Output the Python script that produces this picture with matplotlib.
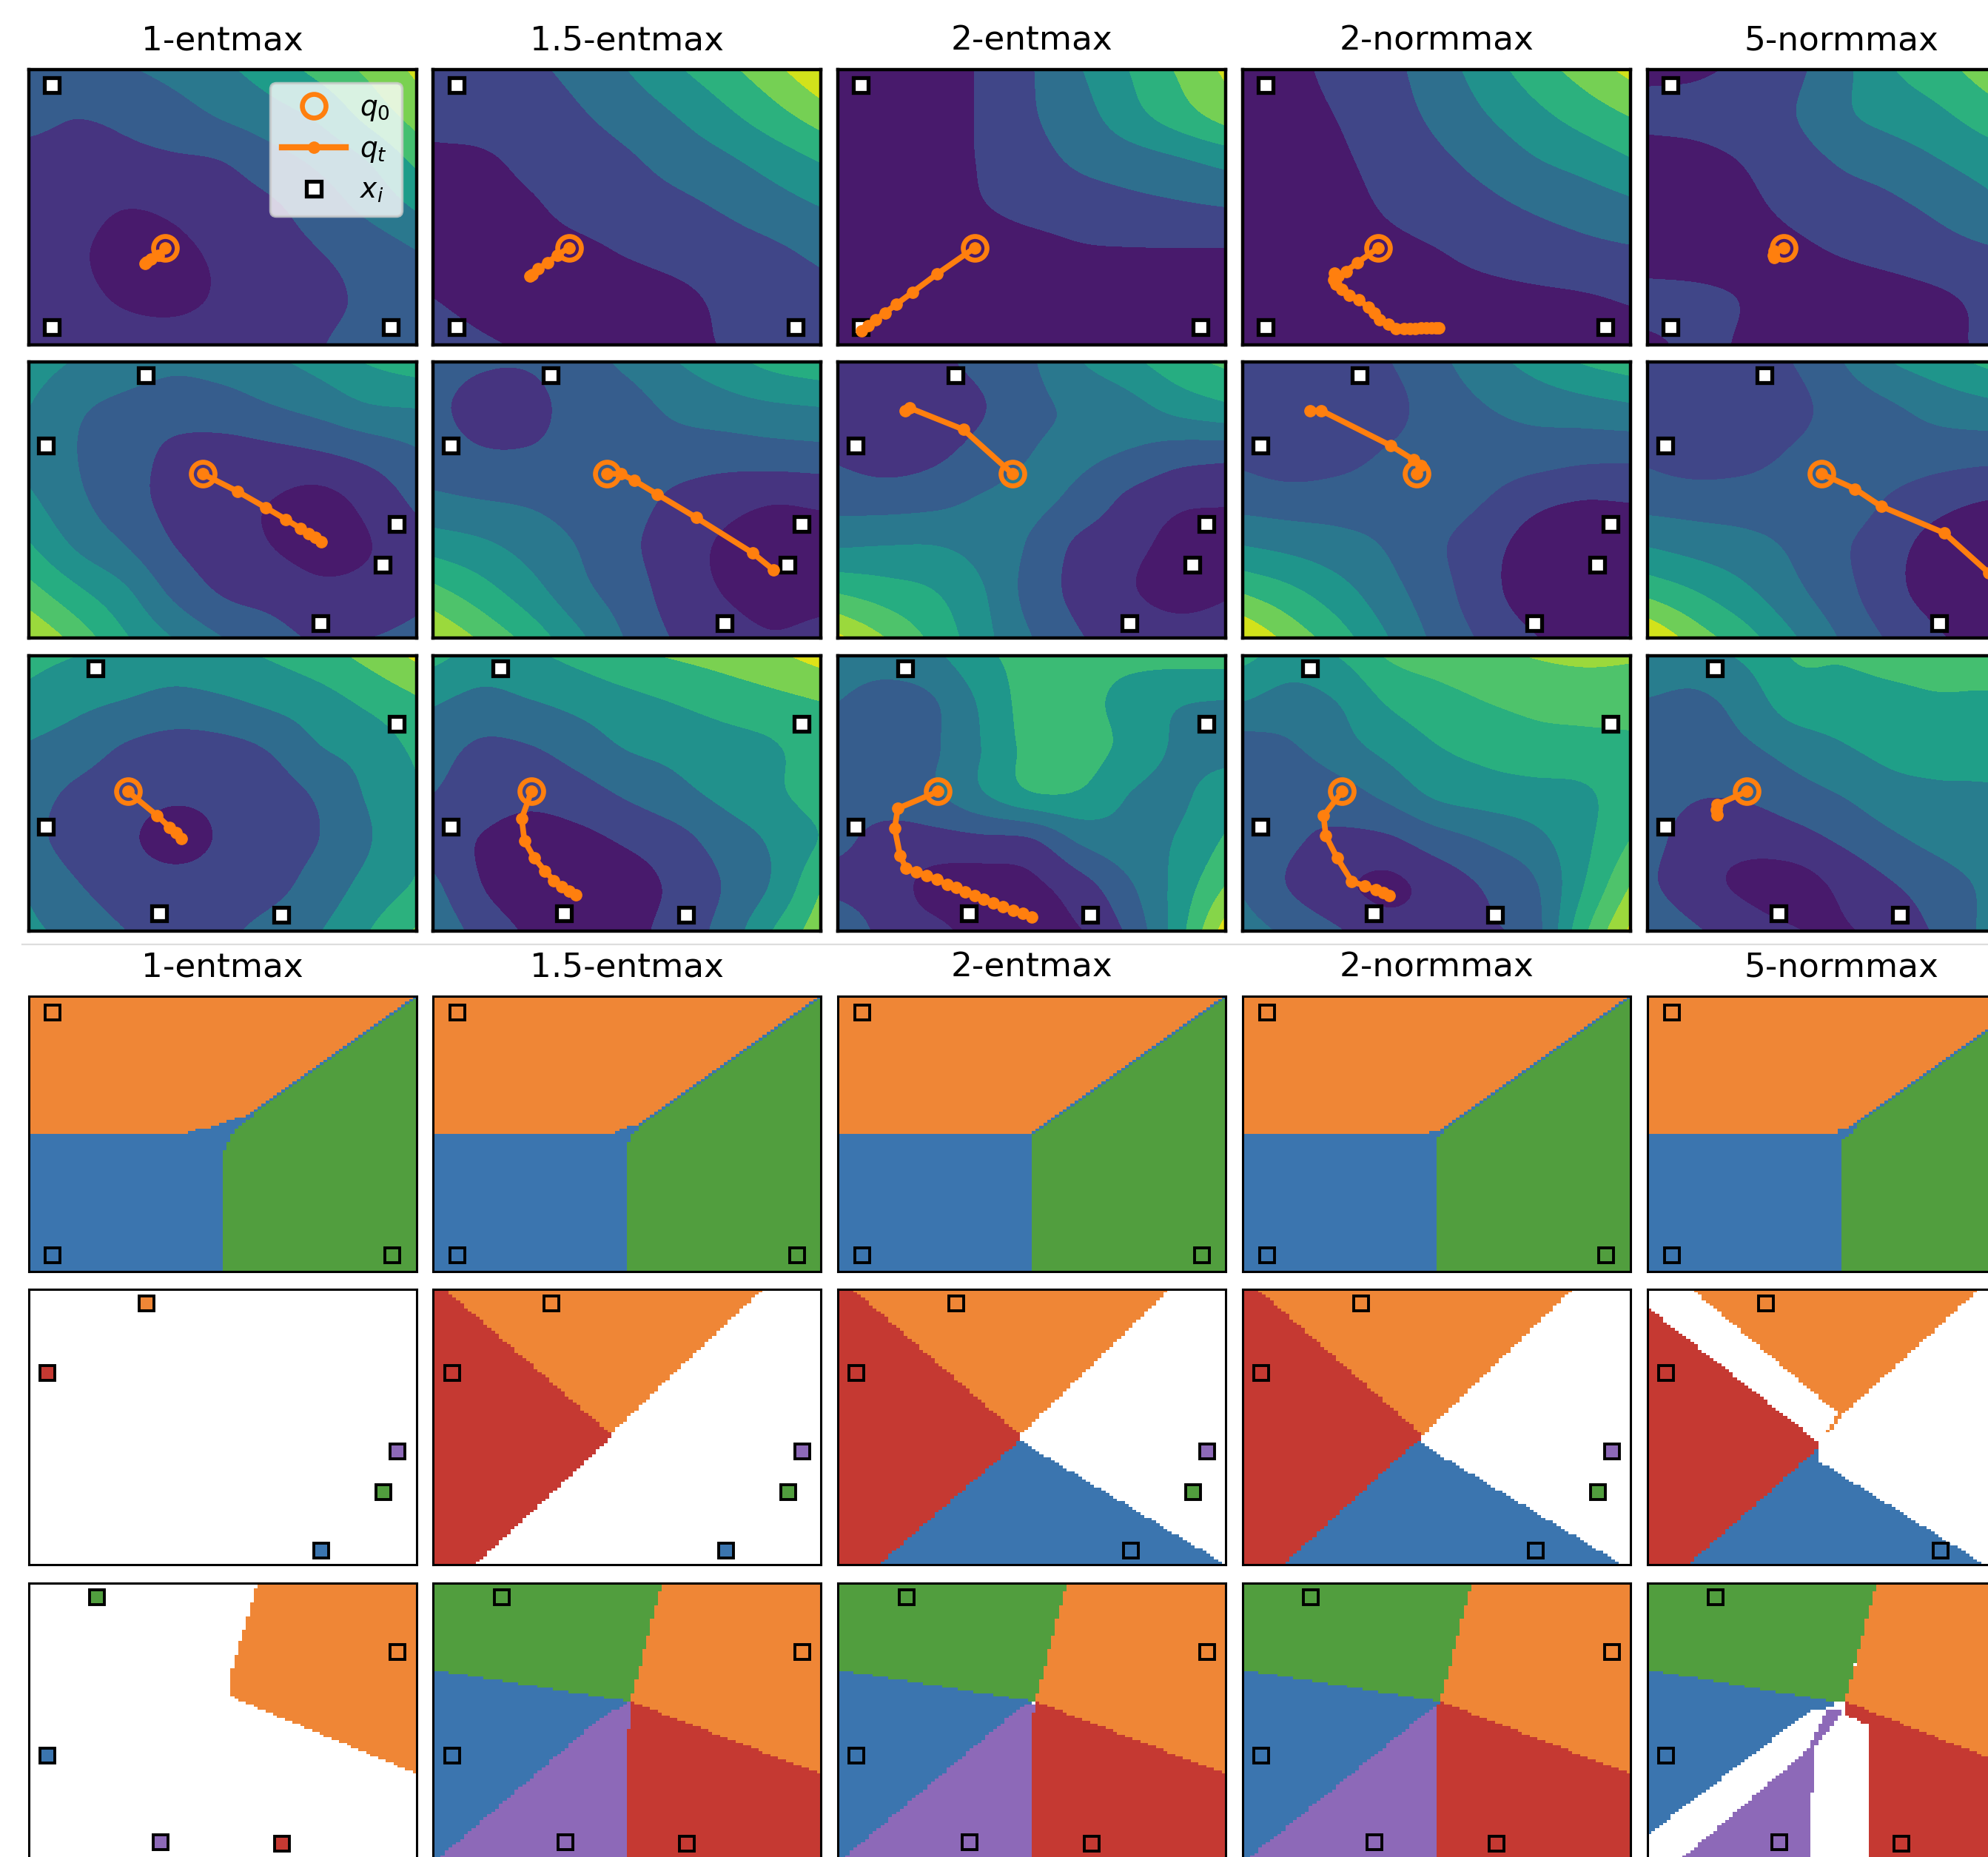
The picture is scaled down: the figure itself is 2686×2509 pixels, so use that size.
import numpy as np
import matplotlib
matplotlib.use("Agg")
import matplotlib.pyplot as plt
from matplotlib.lines import Line2D
from matplotlib.path import Path
from matplotlib.colors import ListedColormap

W, H = 2686, 2509
DPI = 100
TITLES = ["1-entmax", "1.5-entmax", "2-entmax", "2-normmax", "5-normmax"]

# ---------- estimated level fields (band number); columns x=0..1, rows top..bottom
Z11 = [[2.2,2.5,2.9,3.3,3.8,4.5,5.3,6.2,7.2],[2.2,2.03,2.2,2.6,3.1,3.6,4.2,5.3,6.4],[1.75,1.7,1.75,1.85,2.0,2.6,3.2,4.0,5.2],
       [1.6,1.3,1.02,1.15,1.5,1.85,2.5,3.25,4.1],[1.6,1.1,.8,.85,1.15,1.6,1.97,2.4,2.95],[1.7,1.25,.9,.85,1.1,1.5,1.8,2.15,2.6],[2.0,1.7,1.4,1.3,1.4,1.6,1.95,2.3,2.6]]
Z12 = [[1.3,1.5,1.85,2.25,3.0,3.85,4.7,5.7,6.9],[1.2,1.35,1.6,1.9,2.4,3.0,3.75,4.6,5.5],[.85,.88,1.2,1.5,1.85,2.35,2.8,3.4,4.05],
       [.7,.75,.9,1.25,1.5,1.75,2.1,2.55,3.0],[.7,.65,.7,.8,1.05,1.3,1.55,1.8,2.2],[1.0,.75,.6,.55,.6,.8,1.15,1.4,1.7],[1.4,1.1,.9,.75,.75,.85,1.03,1.3,1.55]]
Z13 = [[.3,.4,.7,1.1,1.95,2.95,4.0,5.1,6.2],[.3,.4,.7,1.1,1.9,2.6,3.6,4.5,5.4],[.3,.4,.7,1.07,1.65,2.15,2.5,2.85,3.3],
       [.3,.4,.6,.95,1.3,1.5,1.7,1.85,2.0],[.2,.2,.3,.4,.6,.85,.9,.9,.9],[.2,.2,.2,.2,.2,.2,.2,.2,.2],[.15,.15,.15,.15,.15,.15,.15,.15,.15]]
Z14 = [[.4,.75,1.3,1.75,2.5,3.5,4.5,5.4,6.3],[.35,.65,1.05,1.6,2.2,2.95,3.7,4.4,5.05],[.3,.5,.85,1.35,1.8,2.3,2.9,3.35,3.9],
       [.25,.4,.65,1.1,1.45,1.75,2.1,2.4,2.75],[.2,.3,.45,.7,.95,1.25,1.5,1.7,1.85],[.15,.15,.2,.3,.6,.7,.8,.9,1.08],[.1,.1,.1,.2,.3,.4,.5,.6,.7]]
Z15 = [[.8,.85,1.2,1.75,2.7,3.9,4.6,5.5,6.3],[1.2,1.3,1.6,1.95,2.8,3.35,3.8,4.5,5.2],[.6,.7,1.05,1.55,2.1,2.45,2.95,3.45,3.9],
       [.5,.55,.8,1.2,1.55,1.8,2.2,2.7,3.2],[.5,.55,.6,.8,1.05,1.3,1.6,1.85,2.0],[1.3,1.2,.95,.6,.5,.6,.85,1.2,1.4],[.8,1.15,.9,.5,.4,.5,.8,1.1,1.3]]
Z21 = [[4.5,3.9,3.5,3.2,3.4,3.8,4.35,5.05,5.5],[4.0,3.15,2.75,2.5,2.55,2.9,3.3,3.85,4.0],[3.7,3.0,2.5,1.75,1.6,1.7,1.9,2.3,2.85],
       [4.2,3.2,2.4,1.7,1.3,1.0,.7,1.3,2.2],[5.1,3.85,3.0,2.0,1.5,1.0,.7,.95,1.6],[6.4,5.2,4.15,2.75,1.9,1.6,1.2,1.3,1.75],[8.0,6.6,5.1,3.95,3.0,2.4,1.85,1.98,2.25]]
Z22 = [[2.4,2.1,2.1,2.6,3.2,3.95,4.6,5.3,5.7],[2.2,1.7,1.7,2.4,2.6,3.2,3.55,3.8,3.95],[2.5,2.1,2.1,2.4,2.5,2.5,2.45,2.55,2.65],
       [3.2,3.0,2.85,2.6,2.35,1.8,1.4,1.1,1.2],[4.6,4.2,3.6,2.95,2.2,1.5,.85,.45,.6],[6.3,5.4,4.4,3.3,2.5,1.55,.95,.5,.6],[8.0,6.8,5.6,4.2,2.9,1.9,1.5,1.1,1.4]]
Z23 = [[1.9,1.6,1.8,2.3,2.9,3.95,4.7,5.6,6.2],[1.5,1.3,1.4,1.95,2.75,3.2,3.6,4.3,4.75],[1.85,1.55,1.8,2.4,3.0,3.15,2.9,2.45,2.3],
       [2.6,2.55,2.7,3.1,3.2,2.7,1.75,1.2,1.1],[3.9,4.0,4.0,3.6,2.85,1.75,1.25,.75,.7],[5.9,5.45,5.0,4.05,2.6,1.7,1.1,.65,.9],[8.2,6.95,5.7,4.3,3.0,2.05,1.7,1.5,1.5]]
Z24 = [[1.8,1.5,1.55,1.95,2.75,3.55,4.35,5.05,5.5],[1.4,1.15,1.2,1.65,2.45,2.95,3.3,3.55,3.8],[1.75,1.4,1.6,2.1,2.4,2.55,2.5,2.3,2.25],
       [2.6,2.45,2.5,2.6,2.45,2.0,1.3,1.0,1.05],[4.0,3.7,3.35,2.9,2.15,1.4,.55,.2,.3],[5.9,5.2,4.35,3.35,2.4,1.35,.5,.3,.4],[8.0,6.6,5.4,4.0,2.75,1.8,1.05,.6,1.05]]
Z25 = [[1.95,1.6,1.7,2.0,2.95,3.95,4.55,5.2,5.8],[1.4,1.1,1.2,1.7,2.4,2.85,3.35,3.65,3.9],[1.8,1.45,1.6,2.1,2.45,2.55,2.45,2.35,2.35],
       [2.6,2.5,2.5,2.6,2.55,1.9,1.35,1.0,1.0],[3.95,3.6,3.3,2.85,2.15,1.35,.6,.2,.2],[5.7,5.0,4.2,3.25,2.35,1.3,.6,.2,.2],[8.0,6.5,5.4,4.1,2.9,1.85,1.1,.65,.9]]
Z31 = [[4.3,4.0,3.7,3.55,3.75,4.1,4.6,5.3,6.2],[3.7,3.25,2.95,2.7,2.85,3.2,3.6,4.2,4.85],[2.9,2.5,1.9,1.6,1.7,2.1,2.95,3.4,4.2],
       [2.4,1.8,1.4,1.15,1.25,1.6,2.15,3.1,3.9],[2.3,1.6,1.15,.7,1.1,1.6,2.0,2.9,3.95],[2.85,2.05,1.5,1.3,1.4,1.7,2.4,3.3,4.1],[3.2,2.65,2.0,1.6,1.8,2.35,2.95,3.95,5.1]]
Z32 = [[4.3,3.65,3.85,4.3,4.8,5.1,5.4,5.8,6.4],[3.1,2.7,2.95,3.3,3.7,4.05,4.4,4.7,5.0],[2.4,1.85,1.95,2.45,3.05,3.3,3.6,3.9,4.55],
       [2.0,1.5,1.3,1.6,2.15,2.7,3.25,3.8,4.45],[1.5,.95,.6,.75,1.15,1.65,2.45,3.15,4.05],[2.2,1.0,.5,.4,.6,1.2,2.05,3.1,4.9],[2.8,1.6,.85,.5,.7,1.4,2.35,4.0,5.6]]
Z33 = [[3.6,3.55,3.85,4.8,5.3,5.3,5.3,5.4,5.5],[3.0,2.6,2.95,4.2,5.4,5.3,4.65,4.1,3.95],[2.6,2.6,2.9,4.05,5.3,5.4,4.7,3.85,3.6],
       [2.6,2.6,2.9,3.95,4.95,4.9,4.0,3.8,4.6],[2.3,1.6,1.65,1.8,1.95,3.2,3.7,4.05,5.1],[1.7,1.4,.7,.55,.8,1.6,2.85,4.3,6.0],[3.0,1.6,1.2,.7,.7,.95,2.2,4.5,7.5]]
Z34 = [[5.3,4.6,5.05,6.1,6.5,6.75,7.05,7.2,7.1],[4.0,3.6,4.05,5.1,5.6,6.0,6.25,6.4,6.5],[2.6,2.9,3.6,4.3,4.95,5.3,5.6,5.65,5.75],
       [2.8,2.3,2.6,3.3,4.2,4.5,4.65,4.85,5.5],[2.95,2.15,1.8,1.85,2.55,3.1,3.7,4.7,6.0],[2.9,1.9,1.2,.8,1.4,2.1,2.85,4.9,7.0],[3.4,2.75,2.05,1.4,1.5,1.85,2.55,5.65,8.2]]
Z35 = [[3.9,3.75,4.15,5.05,5.1,5.3,5.4,5.6,5.8],[2.95,2.8,3.4,4.5,4.6,4.75,4.9,4.85,4.9],[2.9,2.6,2.85,3.4,3.9,4.3,4.5,4.6,4.7],
       [2.6,2.1,2.15,2.6,3.05,3.6,3.8,3.85,4.1],[2.4,1.5,1.3,1.6,2.15,2.8,3.3,3.7,4.0],[2.2,1.35,.85,.6,1.2,1.9,2.5,3.2,3.9],[2.9,2.1,1.5,1.05,.9,1.4,2.15,3.2,3.9]]
FIELDS = [[Z11, Z12, Z13, Z14, Z15], [Z21, Z22, Z23, Z24, Z25], [Z31, Z32, Z33, Z34, Z35]]

# colour position of every band on viridis
T7 = [.07, .21, .36, .50, .64, .79, .93]
T_A = [.07, .15, .29, .40, .55, .70, .80, .93]
T_B = [.07, .15, .29, .40, .50, .62, .72, .85, .95]
T_C = [.07, .21, .30, .40, .52, .64, .78, .93, .97]
T_D = [.07, .21, .35, .50, .64, .80, .95]
T_E = [.07, .15, .29, .40, .53, .68, .82, .95, .97]
T_F = [.07, .15, .29, .39, .51, .63, .72, .85, .95]
T_G = [.07, .15, .30, .42, .56, .70, .80, .93]
BANDS = [[T_A, T7, T7, T7, T7], [T_B, T_B, T_B, T_C, T_C], [T_D, T_D, T_E, T_F, T_G]]

# anchor points x_i, per row (fractions of the panel, y from the top)
XI_X = [[.0625, .0625, .9375], [.755, .305, .048, .916, .952], [.048, .952, .176, .654, .34]]
XI_Y = [[.94, .06, .94], [.95, .05, .305, .737, .59], [.625, .25, .05, .945, .94]]
XI_COLORS = [["blue", "orange", "green"], ["blue", "orange", "red", "green", "purple"],
             ["blue", "orange", "green", "red", "purple"]]
TOP_DX, TOP_DY = -.003, -.002

# query trajectories q_t
QX = [[[.353,.335,.315,.305,.30], [.35,.32,.295,.27,.255,.25], [.352,.256,.192,.15,.121,.096,.077,.06],
       [.349,.295,.266,.245,.237,.235,.24,.256,.275,.30,.324,.34,.353,.375,.395,.415,.43,.445,.459,.472,.487,.497,.506], [.35,.327,.325,.327]],
      [[.449,.539,.611,.664,.701,.723,.74,.754], [.447,.484,.519,.577,.678,.823,.878], [.45,.323,.185,.173],
       [.449,.459,.44,.382,.202,.173], [.448,.535,.602,.765,.88]],
      [[.256,.332,.364,.38,.394], [.253,.228,.235,.26,.288,.311,.332,.35,.367],
       [.258,.154,.146,.16,.175,.202,.229,.256,.281,.304,.327,.352,.375,.40,.425,.452,.477,.50],
       [.256,.208,.214,.243,.281,.314,.343,.362,.378], [.256,.179,.178,.179]]]
QY = [[[.648,.675,.69,.70,.705], [.648,.675,.702,.725,.745,.75], [.649,.743,.81,.854,.885,.91,.932,.95],
       [.649,.703,.734,.75,.74,.766,.78,.80,.82,.838,.865,.885,.91,.925,.941,.941,.941,.941,.94,.94,.94,.94,.94], [.649,.66,.675,.685]],
      [[.405,.469,.527,.571,.603,.623,.637,.651], [.405,.405,.43,.479,.564,.692,.755], [.405,.244,.166,.175],
       [.405,.375,.354,.303,.175,.175], [.405,.46,.523,.62,.765]],
      [[.494,.582,.625,.645,.665], [.494,.593,.673,.735,.783,.818,.841,.855,.869],
       [.494,.556,.628,.727,.772,.786,.80,.814,.832,.844,.858,.872,.885,.899,.913,.927,.938,.949],
       [.494,.583,.655,.735,.821,.837,.851,.862,.873], [.494,.542,.56,.579]]]

# decision regions: class and outline of each (later ones paint over earlier ones)
D11 = [("orange",[(0,0),(1,0),(.5,.5),(0,.5)]),
       ("green",[(1,0),(1,1),(.498,1),(.498,.5)]),
       ("blue",[(0,.5),(.407,.5),(.407,.49),(.46,.48),(.49,.465),(.51,.455),(.53,.445),(.55,.44),(.57,.425),(1,-.005),(1,.005),(.585,.42),(.57,.45),(.543,.47),(.53,.49),(.52,.515),(.51,.54),(.498,.59),(.498,1),(0,1)])]
D12 = [("orange",[(0,0),(1,0),(.5,.5),(0,.5)]),
       ("green",[(1,0),(1,1),(.5,1),(.5,.5)]),
       ("blue",[(0,.5),(.47,.5),(.47,.49),(.49,.48),(.53,.465),(1,-.005),(1,.005),(.54,.465),(.53,.48),(.515,.5),(.505,.53),(.5,.55),(.5,1),(0,1)])]
D13 = [("orange",[(0,0),(1,0),(.5,.5),(0,.5)]),
       ("green",[(1,0),(1,1),(.5,1),(.5,.5)]),
       ("blue",[(0,.5),(.5,.495),(1,-.005),(1,.005),(.5,.505),(.5,1),(0,1)])]
D14 = [("orange",[(0,0),(1,0),(.5,.5),(0,.5)]),
       ("green",[(1,0),(1,1),(.5,1),(.5,.5)]),
       ("blue",[(0,.5),(.485,.5),(.485,.49),(.5,.49),(.52,.475),(1,-.005),(1,.005),(.53,.475),(.52,.49),(.5,.52),(.5,1),(0,1)])]
D15 = [("orange",[(0,0),(1,0),(.5,.5),(0,.5)]),
       ("green",[(1,0),(1,1),(.5,1),(.5,.5)]),
       ("blue",[(0,.5),(.49,.5),(.49,.485),(.52,.475),(.535,.46),(1,-.005),(1,.005),(.545,.46),(.53,.49),(.5,.525),(.5,1),(0,1)])]
D21 = []
D22 = [("red",[(0,0),(.032,0),(.458,.515),(.458,.54),(.11,1),(0,1)]),
       ("orange",[(.032,0),(.85,0),(.458,.525)])]
D23 = [("red",[(0,0),(.04,0),(.47,.52),(.47,.55),(.115,1),(0,1)]),
       ("orange",[(.04,0),(.855,0),(.47,.53)]),
       ("blue",[(.47,.55),(1,1),(.115,1),(.105,1),(.46,.56)])]
D24 = [("red",[(0,0),(.04,0),(.46,.50),(.46,.55),(.115,1),(0,1)]),
       ("orange",[(.04,0),(.85,0),(.465,.53)]),
       ("blue",[(.46,.56),(.98,1),(.115,1),(.105,1),(.45,.55)])]
D25 = [("red",[(0,.065),(.44,.555),(.44,.58),(.115,1),(0,1)]),
       ("orange",[(.115,0),(.855,0),(.50,.46),(.47,.515),(.465,.515),(.49,.45)]),
       ("blue",[(.44,.58),(.44,.63),(.46,.64),(.87,1),(.115,1),(.105,1),(.43,.59)])]
D31 = [("orange",[(.59,0),(1,0),(1,.693),(.52,.412),(.52,.332)])]
D32 = [("green",[(0,0),(.59,0),(.51,.43),(0,.315)]),
       ("orange",[(.59,0),(1,0),(1,.693),(.51,.43)]),
       ("red",[(.51,.43),(1,.693),(1,1.02),(.50,1.02),(.50,.53),(.51,.53)]),
       ("purple",[(.50,1.02),(.50,.53),(.51,.53),(.51,.43),(.43,.486),(-.01,1.02)]),
       ("blue",[(0,.315),(.51,.43),(.435,.486),(.014,1),(0,1.02)])]
D33 = [("green",[(0,0),(.59,0),(.51,.43),(0,.315)]),
       ("orange",[(.59,0),(1,0),(1,.693),(.51,.43)]),
       ("red",[(.51,.43),(1,.693),(1,1.02),(.50,1.02),(.50,.47),(.51,.47)]),
       ("purple",[(.50,1.02),(.50,.47),(.51,.47),(.51,.44),(.47,.445),(-.01,1.02)]),
       ("blue",[(0,.315),(.51,.43),(.475,.445),(.014,1),(0,1.02)])]
D34 = [("green",[(0,0),(.59,0),(.51,.43),(0,.315)]),
       ("orange",[(.59,0),(1,0),(1,.693),(.51,.43)]),
       ("red",[(.51,.43),(1,.693),(1,1.02),(.50,1.02),(.50,.45)]),
       ("purple",[(.50,1.02),(.50,.44),(.51,.43),(.49,.44),(-.01,1.02)]),
       ("blue",[(0,.315),(.51,.43),(.50,.44),(.014,1),(0,1.02)])]
D35 = [("green",[(0,0),(.59,0),(.51,.425),(.455,.43),(0,.315)]),
       ("orange",[(.59,0),(1,0),(1,.70),(.51,.43)]),
       ("red",[(.51,.43),(1,.70),(1,1.02),(.57,1.02),(.57,.515),(.51,.475)]),
       ("blue",[(0,.315),(.48,.43),(.48,.45),(.417,.465),(0,.915)]),
       ("purple",[(.073,1.02),(.417,.60),(.445,.51),(.465,.455),(.51,.455),(.49,.49),(.435,.59),(.427,.69),(.417,1.02)])]
REGIONS = [[D11, D12, D13, D14, D15], [D21, D22, D23, D24, D25], [D31, D32, D33, D34, D35]]

CLASS_COLORS = {"blue": "#3b75af", "orange": "#ef8636", "green": "#519e3e", "red": "#c53932", "purple": "#8d69b8"}
CLASS_ORDER = ["white", "blue", "orange", "green", "red", "purple"]
ORANGE = "#ff7f0e"

COL_X = [38.5 + 546.9 * i for i in range(5)]
PANEL_W, PANEL_H = 524, 372
TOP_Y = [93.5, 489.5, 885.5]
BOT_Y = [1346, 1742, 2139]


def smooth_rows(a, k):
    """Catmull-Rom rendering pass along the first axis: the contour lines of a coarse field come out curved."""
    p = np.vstack([2 * a[0] - a[1], a, 2 * a[-1] - a[-2]])
    m = a.shape[0] - 1
    u = np.linspace(0, m, m * k + 1)
    i = np.minimum(u.astype(int), m - 1)
    f = (u - i)[:, None]
    p0, p1, p2, p3 = p[i], p[i + 1], p[i + 2], p[i + 3]
    return .5 * (2 * p1 + (p2 - p0) * f + (2 * p0 - 5 * p1 + 4 * p2 - p3) * f ** 2 + (3 * p1 - p0 - 3 * p2 + p3) * f ** 3)


def panel(x, y, lw):
    ax = plt.gcf().add_axes([x / W, 1 - (y + PANEL_H) / H, PANEL_W / W, PANEL_H / H])
    ax.set_xlim(0, 1)
    ax.set_ylim(1, 0)
    ax.set_xticks([])
    ax.set_yticks([])
    for s in ax.spines.values():
        s.set_linewidth(lw)
        s.set_zorder(10)
    return ax


fig = plt.figure(figsize=(W / DPI, H / DPI), dpi=DPI)
vir = matplotlib.colormaps["viridis"]

for r in range(3):
    for c in range(5):
        ax = panel(COL_X[c], TOP_Y[r], 3.2)
        Z = smooth_rows(smooth_rows(np.array(FIELDS[r][c], dtype=float), 10).T, 10).T
        xs = np.linspace(0, 1, Z.shape[1])
        ys = np.linspace(0, 1, Z.shape[0])
        t = BANDS[r][c]
        ax.contourf(xs, ys, np.clip(Z, 0.01, len(t) - .01), levels=np.arange(len(t) + 1),
                    colors=[vir(v) for v in t], zorder=1)
        ax.plot(np.array(XI_X[r]) + TOP_DX, np.array(XI_Y[r]) + TOP_DY, ls="none", marker="s", ms=14,
                mfc="white", mec="black", mew=3.8, zorder=5)
        ax.plot(QX[r][c], QY[r][c], color=ORANGE, lw=5.5, marker="o", ms=11, zorder=6, solid_capstyle="round")
        ax.plot(QX[r][c][0], QY[r][c][0], ls="none", marker="o", ms=23, mfc="none", mec=ORANGE, mew=4.8, zorder=6)
        if r == 0:
            ax.set_title(TITLES[c], fontsize=32.7, pad=19)
        if r == 0 and c == 0:
            handles = [Line2D([], [], ls="none", marker="o", ms=23, mfc="none", mec=ORANGE, mew=4.8),
                       Line2D([], [], color=ORANGE, lw=6, marker="o", ms=11),
                       Line2D([], [], ls="none", marker="s", ms=14, mfc="white", mec="black", mew=3.8)]
            leg = ax.legend(handles, ["$q_0$", "$q_t$", "$x_i$"], loc="upper right", bbox_to_anchor=(.962, .95),
                            borderaxespad=0, fontsize=27, labelspacing=.48, borderpad=.42, handlelength=2.3,
                            handletextpad=.5, framealpha=.8)
            leg.get_frame().set_linewidth(2.5)
            leg.set_zorder(8)

cmap = ListedColormap(["white"] + [CLASS_COLORS[k] for k in CLASS_ORDER[1:]])
n = 100
cx = (np.arange(n) + .5) / n
gx, gy = np.meshgrid(cx, cx)
pts = np.column_stack([gx.ravel(), gy.ravel()])
for r in range(3):
    for c in range(5):
        ax = panel(COL_X[c], BOT_Y[r], 2.2)
        lab = np.zeros(n * n, dtype=int)
        for name, poly in REGIONS[r][c]:
            lab[Path(poly).contains_points(pts)] = CLASS_ORDER.index(name)
        ax.imshow(lab.reshape(n, n), cmap=cmap, vmin=0, vmax=5, extent=(0, 1, 1, 0), aspect="auto",
                  interpolation="nearest", zorder=1)
        for xv, yv, k in zip(XI_X[r], XI_Y[r], XI_COLORS[r]):
            ax.plot([xv], [yv], ls="none", marker="s", ms=14, mfc=CLASS_COLORS[k], mec="black", mew=2.8, zorder=5)
        if r == 0:
            ax.set_title(TITLES[c], fontsize=32.7, pad=19)

fig.add_artist(Line2D([30 / W, 1], [1 - 1276 / H, 1 - 1276 / H], color="#dddddd", lw=1.6))
fig.savefig("out.png", dpi=DPI, facecolor="white")
